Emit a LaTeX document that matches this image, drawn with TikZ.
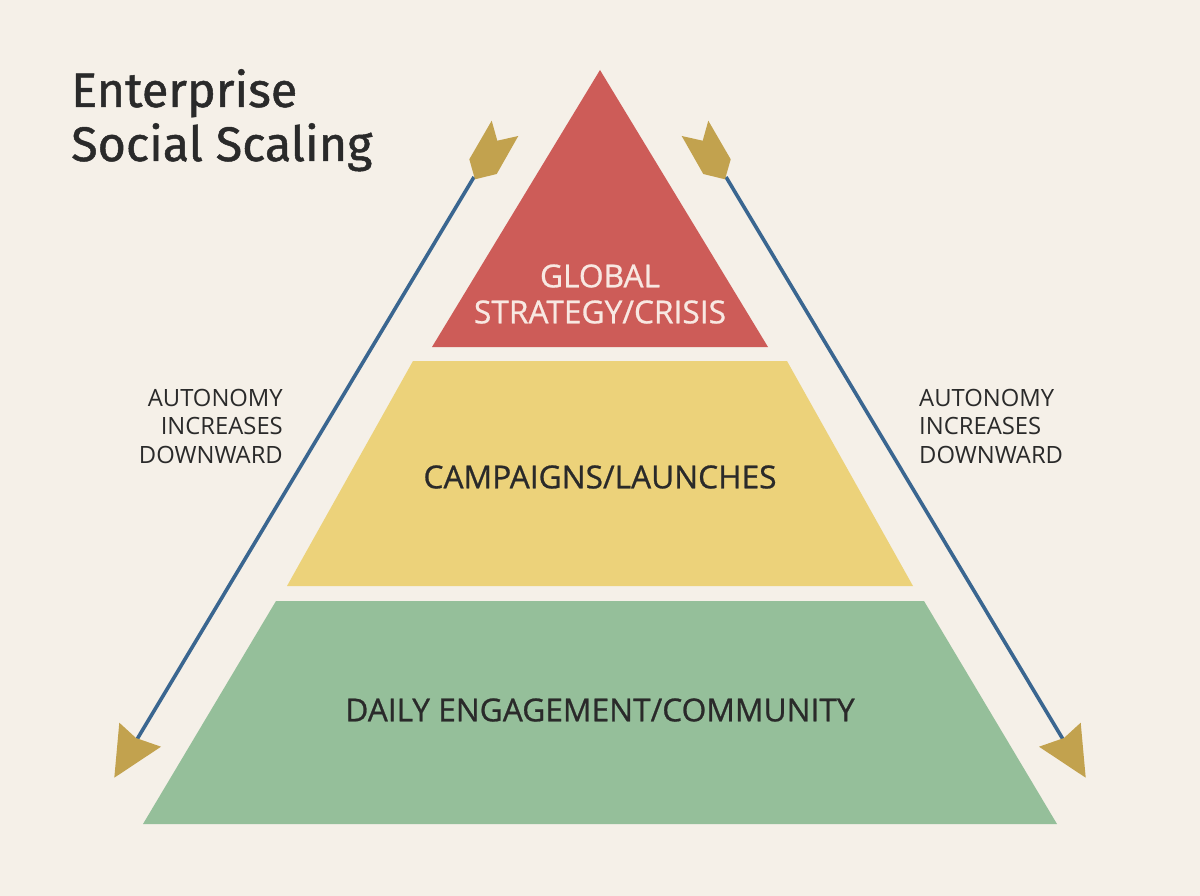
\documentclass[tikz,border=0pt]{standalone}
\usepackage{fontspec}
\setmainfont{Open Sans}
\newfontfamily\titlef[FakeBold=1.0]{Fira Sans}
\newfontfamily\semib[FakeBold=0.8]{Open Sans}
\definecolor{bg}{HTML}{F5F0E8}
\definecolor{tierred}{HTML}{CD5C58}
\definecolor{tieryellow}{HTML}{ECD27A}
\definecolor{tiergreen}{HTML}{95BF9A}
\definecolor{lineblue}{HTML}{3A6690}
\definecolor{gold}{HTML}{C2A24E}
\definecolor{ink}{HTML}{2A2A2A}
\definecolor{lighttext}{HTML}{F8E8E2}
\tikzset{
  tier/.style={draw=none},
  axis/.style={draw=lineblue, line width=3.6pt},
  feather/.style={fill=gold, draw=none},
  tierlabel/.style={text=ink, align=center, inner sep=0pt, font=\semib\fontsize{31.7}{36}\selectfont},
  sidelabel/.style={text=ink, inner sep=0pt, font=\fontsize{23.8}{28.5}\selectfont},
}
\begin{document}
\begin{tikzpicture}[x=1pt,y=-1pt]
\fill[bg] (0,0) rectangle (1200,896);
\useasboundingbox (0,0) rectangle (1200,896);

% tiers
\fill[tier, tierred] (600,70) -- (768,347) -- (432,347) -- cycle;
\fill[tier, tieryellow] (413,361) -- (787,361) -- (913,586) -- (287,586) -- cycle;
\fill[tier, tiergreen] (276,601) -- (924,601) -- (1057,824) -- (143,824) -- cycle;

\node[tierlabel, text=lighttext] (global) at (600,294) {GLOBAL\\STRATEGY/CRISIS};
\node[tierlabel] (campaigns) at (600,477) {CAMPAIGNS/LAUNCHES};
\node[tierlabel] (daily) at (600,710) {DAILY ENGAGEMENT/COMMUNITY};

% title
\node[anchor=base west, inner sep=0pt, text=ink, font=\titlef\fontsize{48.5}{54}\selectfont] (title1) at (71,107) {Enterprise};
\node[anchor=base west, inner sep=0pt, text=ink, font=\titlef\fontsize{48.5}{54}\selectfont] (title2) at (71,161) {Social Scaling};

% side labels
\node[sidelabel, align=right, anchor=east] (leftlabel) at (283,426) {AUTONOMY\\INCREASES\\DOWNWARD};
\node[sidelabel, align=left, anchor=west] (rightlabel) at (919,426) {AUTONOMY\\INCREASES\\DOWNWARD};

% left arrow
\coordinate (ltail) at (474,177);
\coordinate (lhead) at (136,741);
\draw[axis] (ltail) -- (lhead);
\fill[feather] (491.7,120.7) -- (497.3,140.7) -- (518.3,136) -- (496.7,174) -- (475,179.3) -- (469.3,159.3) -- cycle;
\fill[feather] (119.3,722.7) -- (136,738) -- (161,746.7) -- (114.3,777.7) -- cycle;

% right arrow
\coordinate (rtail) at (726,177);
\coordinate (rhead) at (1064,741);
\draw[axis] (rtail) -- (rhead);
\fill[feather] (708.3,120.7) -- (702.7,140.7) -- (681.7,136) -- (703.3,174) -- (725,179.3) -- (730.7,159.3) -- cycle;
\fill[feather] (1080.7,722.7) -- (1064,738) -- (1039,746.7) -- (1085.7,777.7) -- cycle;
\end{tikzpicture}
\end{document}
